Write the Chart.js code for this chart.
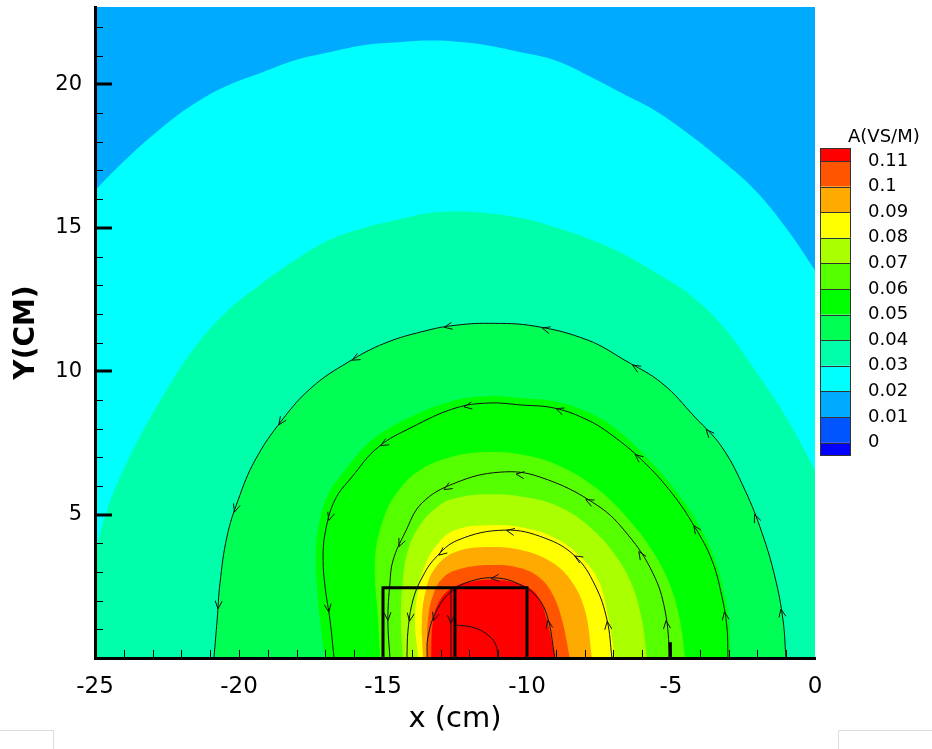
<!DOCTYPE html>
<html>
<head>
<meta charset="utf-8">
<script src="https://cdn.jsdelivr.net/npm/chart.js@4.4.1/dist/chart.umd.min.js"></script>
<style>
  html, body { margin: 0; padding: 0; background: #fff; }
  #wrap { width: 932px; height: 749px; }
</style>
</head>
<body>
<div id="wrap"><canvas id="c" width="932" height="749"></canvas></div>
<script>
// ---------------------------------------------
// Data (x / y in cm)
// ---------------------------------------------
const levelLabels = ["0.11", "0.1", "0.09", "0.08", "0.07", "0.06", "0.05", "0.04", "0.03", "0.02", "0.01", "0"]
const levelColors = ["#FF0000", "#FF5500", "#FFAA00", "#FFFF00", "#AAFF00", "#55FF00", "#00FF00",
                     "#00FF55", "#00FFAA", "#00FFFF", "#00AAFF", "#0055FF", "#0000FF"]
const xTickLabels = [-25, -20, -15, -10, -5, 0]
const yTickLabels = [5, 10, 15, 20]

// contour outlines, outer to inner (the first two run off the plot edges)
const bandCyan = [[1, -1], [-26, -1], [-26, 15.3], [-25, 16.31], [-23.85, 17.46], [-22.67, 18.5], [-21.53, 19.34],
  [-20.38, 19.97], [-19.2, 20.42], [-18.06, 20.84], [-16.91, 21.11], [-15.73, 21.36], [-14.58, 21.46],
  [-13.44, 21.53], [-12.5, 21.5], [-11.35, 21.36], [-10.17, 21.11], [-9.03, 20.84], [-7.88, 20.31],
  [-6.7, 19.69], [-5.56, 19.09], [-4.41, 18.29], [-3.23, 17.35], [-2.08, 16.31], [-0.94, 14.91],
  [0, 13.52], [1, 12.04]]
const bandTeal = [[1, -1], [-26, -1], [-25.4, 2.2], [-25, 3.66], [-24.55, 5.26], [-23.85, 6.9], [-22.67, 9.09],
  [-21.53, 10.84], [-20.38, 12.13], [-19.2, 13.07], [-18.06, 13.87], [-16.91, 14.56], [-15.73, 14.98],
  [-14.58, 15.26], [-13.44, 15.51], [-12.5, 15.57], [-11.35, 15.51], [-10.17, 15.33], [-9.03, 15.02],
  [-7.88, 14.63], [-6.7, 14.11], [-5.56, 13.45], [-4.41, 12.72], [-3.23, 11.6], [-2.08, 10.03],
  [-0.94, 8.29], [0, 6.55], [1, 4.7]]
// outermost field line, also the edge of the 0.04 band
const streamOuter = [[-20.87, 0], [-20.76, 1.32], [-20.66, 2.61], [-20.42, 4.22], [-20.03, 5.51], [-19.44, 6.9],
  [-18.51, 8.29], [-17.47, 9.44], [-16.22, 10.31], [-14.93, 10.98], [-13.44, 11.43], [-12.5, 11.6],
  [-11.35, 11.67], [-9.72, 11.57], [-7.88, 11.08], [-6.6, 10.38], [-5.31, 9.58], [-4.17, 8.4],
  [-3.23, 7.35], [-2.43, 5.85], [-1.84, 4.36], [-1.39, 2.82], [-1.11, 1.32], [-1.01, 0]]
const bandGreen = [[-17.01, 0], [-17.19, 1.32], [-17.29, 2.47], [-17.33, 3.41], [-17.26, 4.46], [-16.91, 5.68],
  [-16.32, 6.55], [-15.38, 7.6], [-14.13, 8.36], [-12.5, 8.99], [-11.28, 9.13], [-10.17, 9.06],
  [-9.03, 8.95], [-7.81, 8.54], [-6.94, 8.01], [-5.9, 7.05], [-4.85, 5.85], [-4.05, 4.65],
  [-3.48, 3.45], [-3.13, 2.15], [-2.97, 1.08], [-2.93, 0]]
const bandLime = [[-15.1, 0], [-15.17, 1.32], [-15.28, 3.41], [-15.0, 4.81], [-14.51, 5.78], [-13.72, 6.55],
  [-12.5, 7.04], [-11.28, 7.18], [-10.07, 7.07], [-8.85, 6.69], [-7.64, 5.96], [-6.6, 4.98],
  [-5.66, 3.76], [-5.03, 2.54], [-4.69, 1.32], [-4.51, 0]]
const bandYellowGreen = [[-14.31, 0], [-14.38, 1.32], [-14.31, 2.72], [-14.13, 3.76], [-13.72, 4.63],
  [-13.13, 5.26], [-12.5, 5.57], [-11.28, 5.71], [-10.07, 5.61], [-8.85, 5.26], [-7.81, 4.56],
  [-6.94, 3.59], [-6.35, 2.54], [-6.01, 1.32], [-5.83, 0]]
const bandYellow = [[-13.78, 0], [-13.89, 1.32], [-13.78, 2.37], [-13.54, 3.24], [-13.13, 3.94], [-12.5, 4.46],
  [-11.28, 4.63], [-10.07, 4.53], [-9.03, 4.18], [-8.16, 3.55], [-7.53, 2.72], [-7.19, 1.5], [-6.94, 0]]
const bandOrange = [[-13.61, 0], [-13.65, 1.32], [-13.51, 2.37], [-13.19, 3.14], [-12.5, 3.69], [-11.28, 3.87],
  [-10.07, 3.73], [-9.1, 3.31], [-8.44, 2.65], [-7.99, 1.67], [-7.74, 0]]
const bandRedOrange = [[-13.47, 0], [-13.44, 1.32], [-13.26, 2.2], [-12.92, 2.79], [-12.33, 3.1], [-11.28, 3.24],
  [-10.24, 3.14], [-9.55, 2.79], [-9.1, 2.2], [-8.78, 1.32], [-8.51, 0]]
const bandRed = [[-13.33, 0], [-13.26, 1.32], [-13.02, 2.02], [-12.6, 2.44], [-11.98, 2.65], [-11.11, 2.72],
  [-10.24, 2.58], [-9.65, 2.2], [-9.31, 1.32], [-9.03, 0]]

// field lines (listed left to right, flow runs right to left)
const stream2 = [[-16.7, 0], [-16.84, 1.32], [-17.01, 2.47], [-17.08, 3.41], [-17.01, 4.36], [-16.67, 5.51],
  [-16.08, 6.31], [-15.17, 7.35], [-13.99, 8.05], [-12.5, 8.71], [-11.35, 8.89], [-10.17, 8.82],
  [-9.03, 8.71], [-7.88, 8.29], [-7.05, 7.77], [-6.01, 6.9], [-4.97, 5.75], [-4.17, 4.56],
  [-3.58, 3.41], [-3.23, 2.13], [-3.06, 1.08], [-3.02, 0]]
const stream3 = [[-14.76, 0], [-14.83, 1.32], [-14.76, 2.61], [-14.65, 3.41], [-14.24, 4.36], [-13.65, 5.4],
  [-12.5, 6.1], [-10.94, 6.48], [-9.55, 6.31], [-7.57, 5.33], [-6.49, 4.29], [-5.63, 2.96],
  [-5.21, 1.67], [-5.03, 0]]
const stream4 = [[-14.17, 0], [-14.13, 0.98], [-13.96, 2.02], [-13.65, 2.79], [-13.19, 3.48], [-12.4, 4.11],
  [-10.76, 4.46], [-9.38, 4.18], [-8.33, 3.55], [-7.64, 2.54], [-7.22, 1.32], [-7.05, 0]]
const stream5 = [[-13.47, 0], [-13.44, 0.73], [-13.13, 1.67], [-12.57, 2.37], [-11.81, 2.72], [-11.04, 2.79],
  [-10.35, 2.61], [-9.72, 2.2], [-9.31, 1.5], [-9.03, 0]]
const stream6 = [[-12.43, 1.15], [-11.81, 1.05], [-11.32, 0.77], [-11.08, 0.45], [-11.01, 0]]
const stream7 = [[-12.64, 0], [-12.64, 2.42]]
const streamStub = [[-5.03, 0], [-5.03, 0.55]]

// conductor outline
const coilOutline = [[-15, 0], [-15, 2.45], [-10, 2.45], [-10, 0]]
const coilDivider = [[-12.5, 0], [-12.5, 2.45]]

// ---------------------------------------------
// Datasets
// ---------------------------------------------
const pts = arr => arr.map(p => ({ x: p[0], y: p[1] }))

const bands = [bandCyan, bandTeal, streamOuter, bandGreen, bandLime, bandYellowGreen,
               bandYellow, bandOrange, bandRedOrange, bandRed]
const bandFill = ["#00FFFF", "#00FFAA", "#00FF55", "#00FF00", "#55FF00", "#AAFF00",
                  "#FFFF00", "#FFAA00", "#FF5500", "#FF0000"]

let datasets = bands.map((b, i) => ({
  data: pts(b),
  fill: "shape",
  backgroundColor: bandFill[i],
  borderWidth: 0,
  tension: 0.4,
  order: 40 - i
}))

const streams = [
  { d: streamOuter, arrows: 10 },
  { d: stream2, arrows: 8 },
  { d: stream3, arrows: 7 },
  { d: stream4, arrows: 5 },
  { d: stream5, arrows: 3 },
  { d: stream6, arrows: 0 },
  { d: stream7, arrows: 1 }
]
streams.forEach(s => {
  datasets.push({
    data: pts(s.d),
    borderColor: "#111",
    borderWidth: 1,
    tension: 0.4,
    fill: false,
    arrows: s.arrows,
    order: 5
  })
})
datasets.push({ data: pts(streamStub), borderColor: "#000", borderWidth: 3.5, fill: false, order: 4 })
datasets.push({ data: pts(coilOutline), borderColor: "#000", borderWidth: 3, fill: false, tension: 0,
  borderJoinStyle: "miter", order: 1 })
datasets.push({ data: pts(coilDivider), borderColor: "#000", borderWidth: 3, fill: false, order: 1 })

// ---------------------------------------------
// Plugins
// ---------------------------------------------
const plotBackground = {
  id: "plotBackground",
  beforeDatasetsDraw(chart) {
    const { ctx, chartArea: a } = chart
    ctx.save()
    ctx.fillStyle = levelColors[10]
    ctx.fillRect(a.left, a.top, a.right - a.left, a.bottom - a.top)
    ctx.restore()
  }
}

const arrowHeads = {
  id: "arrowHeads",
  afterDatasetsDraw(chart) {
    const { ctx, chartArea: a } = chart
    ctx.save()
    ctx.beginPath()
    ctx.rect(a.left, a.top, a.right - a.left, a.bottom - a.top)
    ctx.clip()
    ctx.strokeStyle = "#111"
    ctx.lineWidth = 1
    chart.data.datasets.forEach((ds, i) => {
      if (!ds.arrows) return
      const p = chart.getDatasetMeta(i).data.map(e => [e.x, e.y])
      const cum = [0]
      for (let k = 1; k < p.length; k++) {
        cum.push(cum[k - 1] + Math.hypot(p[k][0] - p[k - 1][0], p[k][1] - p[k - 1][1]))
      }
      const total = cum[cum.length - 1]
      for (let n = 0; n < ds.arrows; n++) {
        const s = total * (n + 0.5) / ds.arrows
        let k = 1
        while (k < cum.length - 1 && cum[k] < s) k++
        const t = (s - cum[k - 1]) / (cum[k] - cum[k - 1])
        const x = p[k - 1][0] + (p[k][0] - p[k - 1][0]) * t
        const y = p[k - 1][1] + (p[k][1] - p[k - 1][1]) * t
        // flow goes from the last point towards the first
        let dx = p[k - 1][0] - p[k][0], dy = p[k - 1][1] - p[k][1]
        const len = Math.hypot(dx, dy) || 1
        dx /= len; dy /= len
        const L = 8, W = 3.5
        ctx.beginPath()
        ctx.moveTo(x - dx * L + dy * W, y - dy * L - dx * W)
        ctx.lineTo(x, y)
        ctx.lineTo(x - dx * L - dy * W, y - dy * L + dx * W)
        ctx.stroke()
      }
    })
    ctx.restore()
  }
}

const tickMarks = {
  id: "tickMarks",
  afterDraw(chart) {
    const { ctx, chartArea: a, scales: { x, y } } = chart
    ctx.save()
    ctx.strokeStyle = "#000"
    for (let v = 1; v <= 22; v++) {
      const major = yTickLabels.includes(v)
      const py = Math.round(y.getPixelForValue(v)) + (major ? 0 : 0.5)
      ctx.lineWidth = major ? 3 : 1
      ctx.beginPath()
      ctx.moveTo(a.left, py)
      ctx.lineTo(a.left + (major ? 17 : 8), py)
      ctx.stroke()
    }
    ctx.lineWidth = 1
    for (let v = -24; v <= -1; v++) {
      const px = Math.round(x.getPixelForValue(v)) + 0.5
      ctx.beginPath()
      ctx.moveTo(px, a.bottom)
      ctx.lineTo(px, a.bottom - 8)
      ctx.stroke()
    }
    // faint window edges at the bottom corners
    ctx.strokeStyle = "#dcdcdc"
    ctx.beginPath()
    ctx.moveTo(0, 730.5); ctx.lineTo(53.5, 730.5); ctx.lineTo(53.5, 749)
    ctx.moveTo(838.5, 749); ctx.lineTo(838.5, 730.5); ctx.lineTo(932, 730.5)
    ctx.stroke()
    ctx.restore()
  }
}

const colorBar = {
  id: "colorBar",
  afterDraw(chart) {
    const ctx = chart.ctx
    const x0 = 820, w = 31, top = 148, first = 161, step = 25.6
    ctx.save()
    for (let i = 0; i < levelColors.length; i++) {
      const y1 = i === 0 ? top : first + (i - 1) * step
      const y2 = i === levelColors.length - 1 ? y1 + 12.5 : first + i * step
      ctx.fillStyle = levelColors[i]
      ctx.fillRect(x0, y1, w, y2 - y1)
      ctx.strokeStyle = "#333"
      ctx.lineWidth = 1
      ctx.strokeRect(x0 + 0.5, Math.round(y1) + 0.5, w - 1, Math.round(y2) - Math.round(y1))
    }
    ctx.fillStyle = "#000"
    ctx.font = "18px 'DejaVu Sans'"
    ctx.textBaseline = "middle"
    ctx.textAlign = "left"
    levelLabels.forEach((t, i) => ctx.fillText(t, 868, first + i * step))
    ctx.font = "18px 'DejaVu Sans'"
    ctx.fillText("A(VS/M)", 848, 137)
    ctx.restore()
  }
}

// ---------------------------------------------
// Chart
// ---------------------------------------------
new Chart(document.getElementById("c"), {
  type: "line",
  data: { datasets },
  plugins: [plotBackground, arrowHeads, tickMarks, colorBar],
  options: {
    responsive: false,
    animation: false,
    events: [],
    elements: { point: { radius: 0 } },
    layout: { padding: { top: 7, right: 117, left: 0, bottom: 0 } },
    plugins: { legend: { display: false }, tooltip: { enabled: false } },
    scales: {
      x: {
        type: "linear",
        min: -25,
        max: 0,
        grid: { display: false, drawTicks: false },
        border: { display: true, color: "#000", width: 3, z: 1 },
        ticks: {
          stepSize: 5,
          includeBounds: false,
          autoSkip: false,
          maxRotation: 0,
          padding: 15,
          color: "#000",
          font: { family: "DejaVu Sans", size: 23 },
          callback: v => xTickLabels.includes(v) ? String(v) : ""
        },
        title: {
          display: true,
          text: "x (cm)",
          color: "#000",
          font: { family: "DejaVu Sans", size: 29 },
          padding: { top: 0, bottom: 12 }
        },
        afterFit: s => { s.height = 91; s.paddingLeft = 0; s.paddingRight = 0 }
      },
      y: {
        type: "linear",
        min: 0,
        max: 22.7,
        grid: { display: false, drawTicks: false },
        border: { display: true, color: "#000", width: 3, z: 1 },
        ticks: {
          stepSize: 5,
          includeBounds: false,
          autoSkip: false,
          padding: 13,
          color: "#000",
          font: { family: "DejaVu Sans", size: 21 },
          callback: v => yTickLabels.includes(v) ? String(v) : ""
        },
        title: {
          display: true,
          text: "Y(CM)",
          color: "#000",
          font: { family: "DejaVu Sans", size: 28, weight: "bold" },
          padding: { top: 10, bottom: 0 }
        },
        afterFit: s => { s.width = 95; s.paddingTop = 0; s.paddingBottom = 0 }
      }
    }
  }
})
</script>
</body>
</html>
